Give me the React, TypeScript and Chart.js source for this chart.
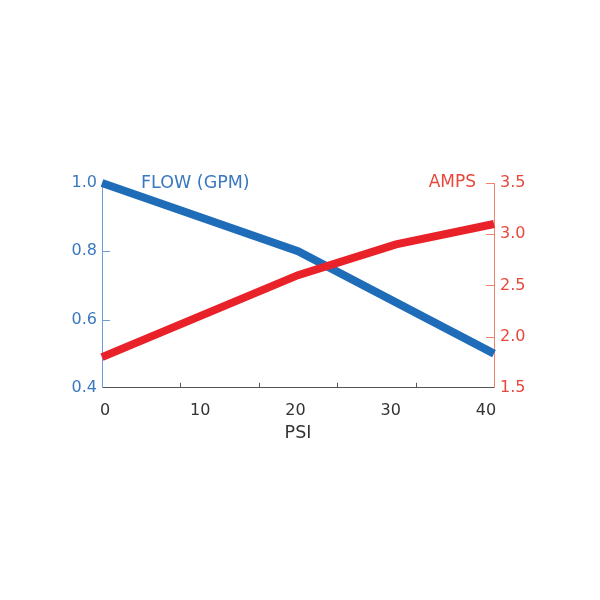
import React, { useEffect, useRef } from "react";
import { Chart, registerables } from "chart.js";

Chart.register(...registerables);

const flowPsi = [0, 20, 40];
const flowGpm = [1.0, 0.8, 0.5];
const ampsPsi = [0, 20, 30, 40];
const ampsVals = [1.8, 2.6, 2.9, 3.1];
const xLabelTicks = [0, 10, 20, 30, 40];
const xTickMarks = [0, 8, 16, 24, 32, 40];
const flowTicks = [0.4, 0.6, 0.8, 1.0];
const ampsTicks = [1.5, 2.0, 2.5, 3.0, 3.5];

const BLUE = "#1f6db8";
const BLUE_TEXT = "#3a78bf";
const BLUE_AXIS = "#6a9fd8";
const RED = "#e9222a";
const RED_TEXT = "#e8473c";
const RED_AXIS = "#f0826c";
const GRAY = "#555555";
const FONT = "'DejaVu Sans', Verdana, sans-serif";

const decorPlugin = {
  id: "decor",
  beforeDatasetsDraw(chart: any) {
    const { ctx, chartArea, scales } = chart;
    ctx.save();
    ctx.lineWidth = 1;
    ctx.strokeStyle = GRAY;
    ctx.beginPath();
    for (const v of xTickMarks) {
      if (v === scales.x.min || v === scales.x.max) continue;
      const px = Math.round(scales.x.getPixelForValue(v)) + 0.5;
      ctx.moveTo(px, chartArea.bottom);
      ctx.lineTo(px, chartArea.bottom - 5);
    }
    ctx.stroke();
    ctx.strokeStyle = BLUE_AXIS;
    ctx.beginPath();
    for (const v of flowTicks) {
      if (v === scales.y.min) continue;
      const py = Math.round(scales.y.getPixelForValue(v)) + 0.5;
      ctx.moveTo(chartArea.left, py);
      ctx.lineTo(chartArea.left + 8, py);
    }
    ctx.stroke();
    ctx.strokeStyle = RED_AXIS;
    ctx.beginPath();
    for (const v of ampsTicks) {
      if (v === scales.y1.min) continue;
      const py = Math.round(scales.y1.getPixelForValue(v)) + 0.5;
      ctx.moveTo(chartArea.right, py);
      ctx.lineTo(chartArea.right - 8, py);
    }
    ctx.stroke();
    ctx.restore();
  },
  afterDraw(chart: any) {
    const { ctx, chartArea } = chart;
    ctx.save();
    ctx.textBaseline = "middle";
    ctx.font = `17.5px ${FONT}`;
    ctx.fillStyle = BLUE_TEXT;
    ctx.textAlign = "left";
    ctx.fillText("FLOW (GPM)", chartArea.left + 39, chartArea.top);
    ctx.font = `17px ${FONT}`;
    ctx.fillStyle = RED_TEXT;
    ctx.textAlign = "right";
    ctx.fillText("AMPS", chartArea.right - 18, chartArea.top);
    ctx.restore();
  },
};

export default function App() {
  const ref = useRef<HTMLCanvasElement>(null);

  useEffect(() => {
    document.body.style.margin = "0";
    const canvas = ref.current!;
    const chart = new Chart(canvas, {
      type: "line",
      data: {
        datasets: [
          {
            label: "AMPS",
            data: ampsPsi.map((x, i) => ({ x, y: ampsVals[i] })),
            borderColor: RED,
            backgroundColor: RED,
            borderWidth: 8,
            pointRadius: 0,
            tension: 0,
            yAxisID: "y1",
            xAxisID: "x",
            clip: false as any,
          },
          {
            label: "FLOW (GPM)",
            data: flowPsi.map((x, i) => ({ x, y: flowGpm[i] })),
            borderColor: BLUE,
            backgroundColor: BLUE,
            borderWidth: 8,
            pointRadius: 0,
            tension: 0,
            yAxisID: "y",
            xAxisID: "x",
            clip: false as any,
          },
        ],
      },
      options: {
        responsive: false,
        animation: false,
        layout: { padding: { top: 183, left: 0, right: 0, bottom: 152 } },
        plugins: {
          legend: { display: false },
          tooltip: { enabled: false },
          title: { display: false },
        },
        scales: {
          x: {
            type: "linear",
            position: "bottom",
            weight: 0,
            min: 0,
            max: 40,
            ticks: { display: false },
            grid: { drawOnChartArea: false, drawTicks: false },
            border: { display: true, color: GRAY, width: 1 },
            afterFit: (s: any) => {
              s.height = 0;
            },
          },
          xl: {
            type: "linear",
            position: "bottom",
            weight: 1,
            min: -0.315,
            max: 40.84,
            afterBuildTicks: (s: any) => {
              s.ticks = xLabelTicks.map((v) => ({ value: v }));
            },
            ticks: {
              color: "#333333",
              font: { family: FONT, size: 16 },
              padding: 13,
              maxRotation: 0,
              autoSkip: false,
              callback: (v: any) => String(v),
            },
            grid: { display: false, drawTicks: false },
            border: { display: false },
            title: {
              display: true,
              text: "PSI",
              color: "#333333",
              font: { family: FONT, size: 17.5 },
              padding: { top: -10, bottom: 4 },
            },
          },
          y: {
            type: "linear",
            position: "left",
            min: 0.4,
            max: 1.0,
            afterBuildTicks: (s: any) => {
              s.ticks = flowTicks.map((v) => ({ value: v }));
            },
            ticks: {
              color: BLUE_TEXT,
              font: { family: FONT, size: 16 },
              padding: 5,
              callback: (v: any) => Number(v).toFixed(1),
            },
            grid: { drawOnChartArea: false, drawTicks: false },
            border: { display: true, color: BLUE_AXIS, width: 1 },
            afterFit: (s: any) => {
              s.width = 102;
            },
          },
          y1: {
            type: "linear",
            position: "right",
            min: 1.5,
            max: 3.5,
            afterBuildTicks: (s: any) => {
              s.ticks = ampsTicks.map((v) => ({ value: v }));
            },
            ticks: {
              color: RED_TEXT,
              font: { family: FONT, size: 16 },
              padding: 6,
              callback: (v: any) => Number(v).toFixed(1),
            },
            grid: { drawOnChartArea: false, drawTicks: false },
            border: { display: true, color: RED_AXIS, width: 1 },
            afterFit: (s: any) => {
              s.width = 106;
            },
          },
        },
      },
      plugins: [decorPlugin],
    });
    return () => chart.destroy();
  }, []);

  return (
    <div style={{ width: 600, height: 600, background: "#ffffff" }}>
      <canvas ref={ref} width={600} height={600} />
    </div>
  );
}
